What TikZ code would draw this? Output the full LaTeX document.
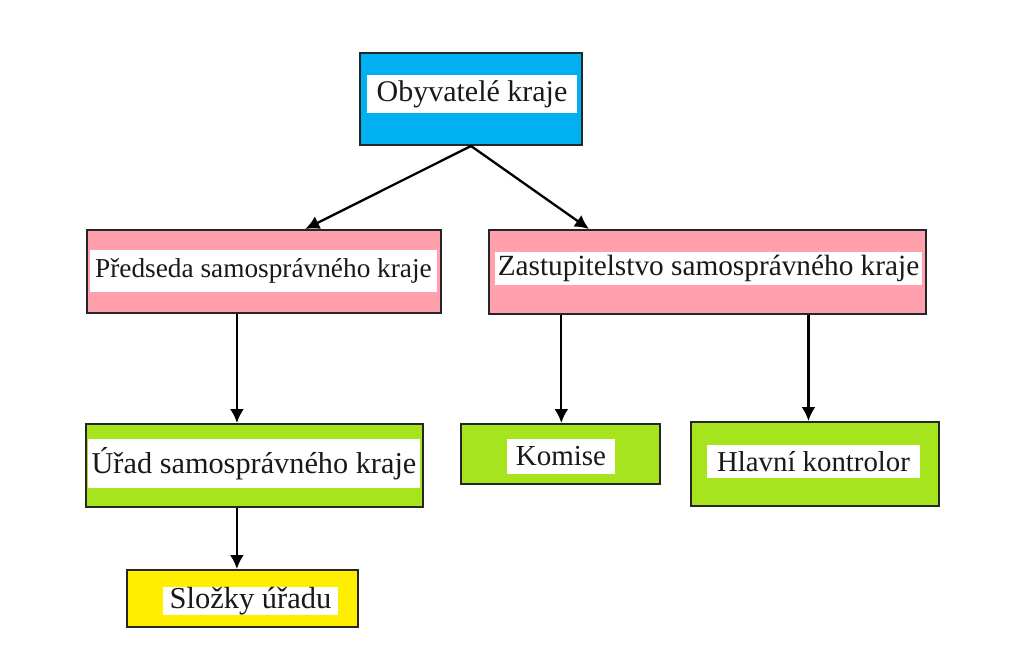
\documentclass[tikz,border=0pt]{standalone}
\usepackage{fontspec}
\setmainfont{Liberation Serif}
\usetikzlibrary{arrows.meta,calc}
\definecolor{cyanbox}{RGB}{0,176,240}
\definecolor{pinkbox}{RGB}{255,160,172}
\definecolor{greenbox}{RGB}{166,228,30}
\definecolor{yellowbox}{RGB}{255,238,0}
\newcommand{\fs}[1]{\fontsize{#1}{#1}\selectfont}
\tikzset{
  orgbox/.style={draw=black!85, line width=2pt, inner sep=0pt, rectangle},
  band/.style={fill=white, inner sep=0pt, rectangle, text=black!90},
  conn/.style={line width=2.3pt, -{Latex[length=14pt,width=14pt]}},
}
\begin{document}
\begin{tikzpicture}[x=1pt,y=-1pt]
\useasboundingbox[fill=white] (0,0) rectangle (1014,662);
% boxes
\node[orgbox, fill=cyanbox, minimum width=222pt, minimum height=92pt] (oby) at (471,99) {};
\node[orgbox, fill=pinkbox, minimum width=354pt, minimum height=83pt] (pred) at (264,271.5) {};
\node[orgbox, fill=pinkbox, minimum width=437pt, minimum height=84pt] (zast) at (707.5,272) {};
\node[orgbox, fill=greenbox, minimum width=337pt, minimum height=83pt] (urad) at (254.5,465.5) {};
\node[orgbox, fill=greenbox, minimum width=199pt, minimum height=60pt] (kom) at (560.5,454) {};
\node[orgbox, fill=greenbox, minimum width=248pt, minimum height=84pt] (hlav) at (815,464) {};
\node[orgbox, fill=yellowbox, minimum width=231pt, minimum height=57pt] (slo) at (242.5,598.5) {};
% white bands with texts
\node[band, font=\fs{30}, minimum width=210pt, minimum height=38pt] (tOby) at (472,94) {Obyvatelé kraje};
\node[band, font=\fs{27.3}, minimum width=347pt, minimum height=42pt] (tPred) at (263.5,271) {Předseda samosprávného kraje};
\node[band, font=\fs{29.3}, minimum width=427pt, minimum height=33pt] (tZast) at (708.5,268.5) {Zastupitelstvo samosprávného kraje};
\node[band, font=\fs{30.3}, minimum width=332pt, minimum height=49pt] (tUrad) at (254,463.5) {Úřad samosprávného kraje};
\node[band, font=\fs{29}, minimum width=108pt, minimum height=35pt] (tKom) at (561,456.5) {Komise};
\node[band, font=\fs{28.8}, minimum width=213pt, minimum height=33pt] (tHlav) at (813.5,461.5) {Hlavní kontrolor};
\node[band, font=\fs{30.5}, minimum width=175pt, minimum height=28pt] (tSlo) at (250.5,601) {Složky úřadu};
% connector anchors
\coordinate (pIn) at ($(pred.north west)!0.616!(pred.north east)$);
\coordinate (zIn) at ($(zast.north west)!0.23!(zast.north east)$);
\coordinate (pOut) at ($(pred.south west)!0.424!(pred.south east)$);
\coordinate (zOut1) at ($(zast.south west)!0.167!(zast.south east)$);
\coordinate (zOut2) at ($(zast.south west)!0.73!(zast.south east)$);
\coordinate (uOut) at ($(urad.south west)!0.448!(urad.south east)$);
% connectors
\draw[conn] (oby.south) -- (pIn);
\draw[conn] (oby.south) -- (zIn);
\draw[conn] (pOut) -- (pOut |- urad.north);
\draw[conn] (zOut1) -- (zOut1 |- kom.north);
\draw[conn] (zOut2) -- (zOut2 |- hlav.north);
\draw[conn] (uOut) -- (uOut |- slo.north);
\end{tikzpicture}
\end{document}
